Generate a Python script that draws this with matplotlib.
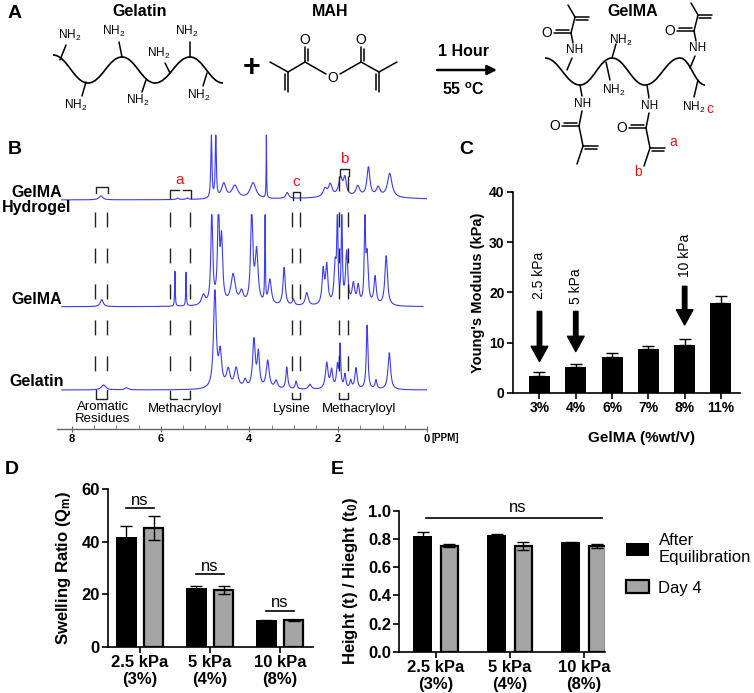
import numpy as np
import matplotlib
matplotlib.use("Agg")
import matplotlib.pyplot as plt
from matplotlib.path import Path
from matplotlib.patches import PathPatch

plt.rcParams['font.family'] = ['Liberation Sans', 'DejaVu Sans']
plt.rcParams['mathtext.fontset'] = 'custom'
plt.rcParams['mathtext.rm'] = 'Liberation Sans'
plt.rcParams['mathtext.bf'] = 'Liberation Sans:bold'
plt.rcParams['mathtext.it'] = 'Liberation Sans:italic'

W, H = 754, 693

# --- B: 1H NMR peak lists (ppm, height, half width) ---
hydrogel_ppm = [7.35, 5.62, 5.40, 4.86, 4.76, 4.58, 4.33, 3.92, 3.62, 3.15,
                2.30, 2.18, 1.95, 1.85, 1.56, 1.32, 1.10, 0.84, 1.60]
hydrogel_int = [4, 1.5, 1.5, 65, 65, 15, 13, 16, 65, 6,
                8, 12, 18, 17, 10, 29, 9, 24, 3]
hydrogel_wid = [0.05, 0.03, 0.03, 0.014, 0.014, 0.06, 0.08, 0.08, 0.006, 0.04,
                0.05, 0.05, 0.05, 0.04, 0.05, 0.04, 0.05, 0.06, 1.2]

gelma_ppm = [7.33, 5.68, 5.43, 5.04, 4.85, 4.70, 4.63, 4.37, 4.18, 3.95,
             3.84, 3.65, 3.54, 3.22, 3.01, 2.71, 2.34, 2.26, 2.07, 2.02,
             1.92, 1.81, 1.66, 1.55, 1.40, 1.35, 1.17, 0.92]
gelma_int = [7, 35, 34, 10, 92, 92, 62, 30, 12, 92,
             52, 92, 25, 38, 6, 13, 34, 38, 38, 92,
             92, 52, 20, 18, 92, 48, 28, 50]
gelma_wid = [0.04, 0.008, 0.008, 0.05, 0.025, 0.025, 0.03, 0.06, 0.05, 0.03,
             0.04, 0.008, 0.04, 0.03, 0.03, 0.04, 0.03, 0.03, 0.03, 0.015,
             0.015, 0.03, 0.035, 0.03, 0.015, 0.03, 0.03, 0.035]

gelatin_ppm = [7.29, 6.77, 4.78, 4.66, 4.48, 4.30, 4.10, 3.90, 3.80, 3.59,
               3.40, 3.16, 2.95, 2.64, 2.26, 2.15, 2.02, 1.96, 1.85, 1.72,
               1.60, 1.35, 1.15, 0.85]
gelatin_int = [5, 2, 100, 34, 18, 20, 8, 48, 34, 28,
               8, 22, 8, 5, 26, 18, 22, 42, 14, 8,
               21, 64, 9, 37]
gelatin_wid = [0.06, 0.05, 0.035, 0.04, 0.05, 0.05, 0.04, 0.035, 0.03, 0.04,
               0.04, 0.025, 0.025, 0.04, 0.035, 0.03, 0.025, 0.018, 0.025, 0.025,
               0.03, 0.022, 0.025, 0.035]

guide_ppm = [7.48, 7.20, 5.79, 5.33, 3.05, 2.86, 1.98, 1.79]
region_labels = ['Aromatic\nResidues', 'Methacryloyl', 'Lysine', 'Methacryloyl']
region_ppm = [7.30, 5.45, 3.05, 1.52]
trace_names = ['GelMA\nHydrogel', 'GelMA', 'Gelatin']

# --- C: Young's modulus ---
conc_labels = ['3%', '4%', '6%', '7%', '8%', '11%']
modulus = [3.4, 5.1, 7.2, 8.7, 9.5, 17.9]
modulus_err = [0.8, 0.6, 0.7, 0.7, 1.2, 1.3]
arrow_labels = ['2.5 kPa', '5 kPa', '10 kPa']
arrow_bar = [0, 1, 4]

# --- D / E ---
group_labels = ['2.5 kPa\n(3%)', '5 kPa\n(4%)', '10 kPa\n(8%)']
swell_eq = [41.8, 22.5, 10.2]
swell_eq_err = [4.2, 0.6, 0.2]
swell_d4 = [45.2, 21.7, 10.1]
swell_d4_err = [4.7, 1.4, 0.2]
swell_ns = [52.8, 27.7, 13.8]

height_eq = [0.82, 0.83, 0.775]
height_eq_err = [0.027, 0.006, 0.003]
height_d4 = [0.752, 0.752, 0.752]
height_d4_err = [0.012, 0.028, 0.013]
height_ns = 0.95

GREY = '#a5a5a5'
BLUE = '#3c3cf0'
RED = '#e8141b'


def rect(l, t, r, b):
    return [l / W, 1 - b / H, (r - l) / W, (b - t) / H]


def spectrum(x, centres, heights, widths):
    y = np.zeros_like(x)
    for c, h, w in zip(centres, heights, widths):
        y += h * w ** 2 / ((x - c) ** 2 + w ** 2)
    return y


fig = plt.figure(figsize=(W / 100, H / 100), dpi=100)

# ---------------- overlay for panel A and letters (pixel coords) ----------------
ax0 = fig.add_axes([0, 0, 1, 1])
ax0.set_xlim(0, W)
ax0.set_ylim(H, 0)
ax0.axis('off')


def bond(p, q, lw=1.1):
    ax0.plot([p[0], q[0]], [p[1], q[1]], color='k', lw=lw, solid_capstyle='round')


def dbond(p, q, off=2.6):
    p, q = np.array(p, float), np.array(q, float)
    d = q - p
    n = np.array([-d[1], d[0]]) / np.hypot(*d) * off
    bond(p, q)
    bond(p + n + d * 0.1, q + n - d * 0.1)


def chain(nodes):
    verts, codes = [nodes[0]], [Path.MOVETO]
    for (x0, y0), (x1, y1) in zip(nodes[:-1], nodes[1:]):
        dx = x1 - x0
        verts += [(x0 + 0.4 * dx, y0), (x1 - 0.4 * dx, y1), (x1, y1)]
        codes += [Path.CURVE4] * 3
    ax0.add_patch(PathPatch(Path(verts, codes), fill=False, lw=1.2, ec='k'))


def atom(x, y, s, size=8.5, color='k'):
    ax0.text(x, y, s, fontsize=size, ha='center', va='center', color=color)


bold = dict(fontweight='bold', ha='center', va='center')
ax0.text(8, 14, 'A', fontsize=14, fontweight='bold', ha='left', va='center')
ax0.text(8, 150, 'B', fontsize=14, fontweight='bold', ha='left', va='center')
ax0.text(459, 150, 'C', fontsize=14, fontweight='bold', ha='left', va='center')
ax0.text(5, 470, 'D', fontsize=14, fontweight='bold', ha='left', va='center')
ax0.text(331, 470, 'E', fontsize=14, fontweight='bold', ha='left', va='center')

# gelatin
ax0.text(140, 11, 'Gelatin', fontsize=11.5, **bold)
chain([(53, 55), (88, 83), (122, 57), (155, 83), (190, 57), (223, 83)])
for p, q, lab in [((60, 60), (66, 45), (70, 35)), ((122, 57), (119, 42), (114, 31)),
                  ((170, 73), (165, 63), (159, 53)), ((190, 57), (190, 42), (187, 31)),
                  ((86, 82), (82, 96), (76, 105)), ((146, 80), (142, 92), (138, 100)),
                  ((207, 73), (203, 86), (199, 95))]:
    bond(p, q)
    atom(lab[0], lab[1], 'NH$_2$')

ax0.text(252, 68, '+', fontsize=22, **bold)
ax0.text(330, 12, 'MAH', fontsize=11.5, **bold)
bond((270, 62), (288, 72))
dbond((288, 72), (288, 92))
bond((288, 72), (305, 62))
dbond((305, 62), (305, 47))
atom(305, 40, 'O', 10)
bond((305, 62), (326, 74))
atom(333, 78, 'O', 10)
bond((340, 74), (361, 62))
dbond((361, 62), (361, 47))
atom(361, 40, 'O', 10)
bond((361, 62), (379, 72))
dbond((379, 72), (379, 92))
bond((379, 72), (397, 62))

ax0.text(463, 52, '1 Hour', fontsize=11.5, **bold)
ax0.annotate('', xy=(497, 70), xytext=(437, 70),
             arrowprops=dict(arrowstyle='-|>', lw=1.8, color='k', mutation_scale=14,
                             shrinkA=0, shrinkB=0))
ax0.text(463, 90, '55 $^{\\mathbf{o}}$C', fontsize=11.5, **bold)

# GelMA
ax0.text(633, 11, 'GelMA', fontsize=11.5, **bold)
chain([(545, 58), (580, 85), (612, 58), (645, 85), (680, 58), (705, 85)])
for p, q, lab in [((612, 58), (616, 44), (621, 40)), ((606, 62), (610, 80), (614, 90)),
                  ((698, 80), (694, 97), (694, 107))]:
    bond(p, q)
    atom(lab[0], lab[1], 'NH$_2$')
atom(710, 109, 'c', 10, RED)
# top amides
for nx, ny, cx in [(575, 50, 571), (698, 48, 694)]:
    bond((nx - 8, ny + 20), (nx - 3, ny + 8))
    atom(nx, ny, 'NH', 8.5)
    bond((nx - 2, ny - 7), (cx, ny - 17))
    dbond((cx, ny - 17), (cx - 17, ny - 17))
    atom(cx - 24, ny - 17, 'O', 10)
    bond((cx, ny - 17), (cx + 4, ny - 33))
    dbond((cx + 4, ny - 33), (cx + 18, ny - 33))
    bond((cx + 4, ny - 33), (cx - 3, ny - 45))
# bottom amides
for nx, ny in [(583, 104), (650, 106)]:
    bond((nx - 3, 85), (nx - 1, ny - 8))
    atom(nx, ny, 'NH', 8.5)
    bond((nx - 1, ny + 7), (nx - 4, ny + 22))
    dbond((nx - 4, ny + 22), (nx - 21, ny + 22))
    atom(nx - 28, ny + 22, 'O', 10)
    bond((nx - 4, ny + 22), (nx, ny + 42))
    dbond((nx, ny + 42), (nx + 15, ny + 42))
    bond((nx, ny + 42), (nx - 6, ny + 60))
atom(673, 142, 'a', 10, RED)
atom(638, 172, 'b', 10, RED)

# ---------------- B: NMR spectra ----------------
axb = fig.add_axes(rect(57, 100, 427, 429))
axb.set_xlim(8.338, 0)
axb.set_ylim(0, 329)
axb.patch.set_alpha(0)
for s in ['top', 'right', 'left']:
    axb.spines[s].set_visible(False)
axb.spines['bottom'].set_color('#666666')
axb.spines['bottom'].set_linewidth(1.0)
axb.set_yticks([])
axb.set_xticks([8, 6, 4, 2, 0])
axb.set_xticks(np.arange(0, 8.3, 0.5), minor=True)
axb.tick_params(axis='x', which='major', direction='inout', length=5, color='#666666',
                labelsize=8, pad=1)
axb.tick_params(axis='x', which='minor', direction='in', length=3, color='#666666')
for t in axb.get_xticklabels():
    t.set_fontweight('bold')
axb.text(-0.1, -9, '[PPM]', fontsize=7, fontweight='bold', ha='left', va='center')

traces = [(hydrogel_ppm, hydrogel_int, hydrogel_wid, 229, 0.0, 65),
          (gelma_ppm, gelma_int, gelma_wid, 122.3, 0.09, 92),
          (gelatin_ppm, gelatin_int, gelatin_wid, 39, 0.0, 100)]
for ppm, inten, wid, base, end, cap in traces:
    x = np.linspace(8.23, end, 4000)
    y = np.minimum(spectrum(x, ppm, inten, wid), cap)
    axb.plot(x, base + y, color=BLUE, lw=0.8)

for i, p in enumerate(guide_ppm):
    top = 253 if i >= 6 else 217
    axb.plot([p, p], [top, 58], color='#222222', lw=1.0, ls=(0, (10.8, 15.1)))


def bracket(x0, x1, ytop, ybot, legs='both'):
    xs, ys = [x0, x1], [ytop, ytop]
    if legs in ('both', 'left'):
        xs, ys = [x0] + xs, [ybot] + ys
    if legs in ('both', 'right'):
        xs, ys = xs + [x1], ys + [ybot]
    axb.plot(xs, ys, color='#222222', lw=1.0)


# hydrogel brackets (open downward)
bracket(7.47, 7.18, 429 - 186.6, 429 - 193.4)
bracket(5.79, 5.58, 429 - 190, 429 - 197.6, 'left')
bracket(5.50, 5.31, 429 - 190, 429 - 197.6, 'right')
bracket(3.03, 2.86, 429 - 191.7, 429 - 199.7)
bracket(1.97, 1.76, 429 - 169.3, 429 - 176.2)
for lab, p, py in [('a', 5.58, 180), ('c', 2.95, 182.4), ('b', 1.87, 159)]:
    axb.text(p, 429 - py, lab, color=RED, fontsize=11, ha='center', va='center')
# gelatin brackets (open upward)
bracket(7.47, 7.20, 429 - 399, 429 - 390)
bracket(5.79, 5.64, 429 - 399, 429 - 390.7, 'left')
bracket(5.50, 5.33, 429 - 399, 429 - 390.7, 'right')
bracket(3.05, 2.86, 429 - 399.3, 429 - 392.7)
bracket(1.98, 1.77, 429 - 399.3, 429 - 392.7)
for lab, p in zip(region_labels, region_ppm):
    yy = 429 - 413 if '\n' in lab else 429 - 409
    axb.text(p, yy, lab, fontsize=9.5, ha='center', va='center', linespacing=1.05)

label_x = 8.338 + (57 - 37) / 44.375
for name, py in zip(trace_names, [200, 300, 382]):
    axb.text(label_x, 429 - py, name, fontsize=11.5, fontweight='bold', ha='center',
             va='center', linespacing=1.05)


def style(ax, size):
    for s in ['top', 'right']:
        ax.spines[s].set_visible(False)
    for s in ['left', 'bottom']:
        ax.spines[s].set_linewidth(1.2)
    ax.tick_params(direction='out', length=4, width=1.2, labelsize=size, pad=2)
    for t in ax.get_xticklabels() + ax.get_yticklabels():
        t.set_fontweight('bold')


# ---------------- C: Young's modulus ----------------
axc = fig.add_axes(rect(513, 192, 740, 392.7))
xc = np.arange(len(modulus))
axc.bar(xc, modulus, width=0.58, color='k', zorder=2)
axc.errorbar(xc, modulus, yerr=[np.zeros(len(modulus)), modulus_err], fmt='none',
             ecolor='k', elinewidth=1, capsize=4, capthick=1, zorder=3)
axc.set_xlim(-0.73, 5.525)
axc.set_ylim(0, 40)
axc.set_yticks([0, 10, 20, 30, 40])
axc.set_xticks(xc)
axc.set_xticklabels(conc_labels)
style(axc, 10)
axc.set_ylabel("Young's Modulus (kPa)", fontsize=10.5, fontweight='bold', labelpad=3)
axc.set_xlabel('GelMA (%wt/V)', fontsize=11, fontweight='bold', labelpad=8)
axc.xaxis.set_label_coords((641 - 513) / 227, -0.19)
for lab, b, tip, tail, ty in zip(arrow_labels, arrow_bar, [6.2, 8.2, 13.5],
                                 [16.2, 16.2, 21.2], [23.4, 21.2, 27.4]):
    axc.annotate('', xy=(b, tip), xytext=(b, tail),
                 arrowprops=dict(arrowstyle='simple,head_length=1.1,head_width=1.2,tail_width=0.32',
                                 mutation_scale=10, color='k', shrinkA=0, shrinkB=0))
    axc.text(b, ty, lab, rotation=90, fontsize=10, ha='center', va='center')

# ---------------- D: swelling ratio ----------------
axd = fig.add_axes(rect(108, 489, 313, 647))
xd = np.arange(3)
off, bw = 0.195, 0.29
axd.bar(xd - off, swell_eq, width=bw, color='k', zorder=2)
axd.bar(xd + off, swell_d4, width=bw * 0.92, color=GREY, edgecolor='k', linewidth=1.6, zorder=2)
axd.errorbar(xd - off, swell_eq, yerr=swell_eq_err, fmt='none', ecolor='k',
             elinewidth=1, capsize=4, capthick=1, zorder=3)
axd.errorbar(xd + off, swell_d4, yerr=swell_d4_err, fmt='none', ecolor='k',
             elinewidth=1, capsize=4, capthick=1, zorder=3)
for g, h in zip(xd, swell_ns):
    axd.plot([g - off, g + off], [h, h], color='k', lw=1.2)
    axd.text(g, h + 1.3, 'ns', fontsize=12, ha='center', va='baseline')
axd.set_xlim(-0.457, 2.47)
axd.set_ylim(0, 60)
axd.set_yticks([0, 20, 40, 60])
axd.set_xticks(xd)
axd.set_xticklabels(group_labels, linespacing=1.15)
style(axd, 12)
axd.set_ylabel('Swelling Ratio (Q$_\\mathbf{m}$)', fontsize=12, fontweight='bold', labelpad=6)

# ---------------- E: height ratio ----------------
axe = fig.add_axes(rect(399.3, 510.7, 605, 651.7))
xe = np.arange(3)
off, bw = 0.18, 0.25
b1 = axe.bar(xe - off, height_eq, width=bw, color='k', zorder=2)
b2 = axe.bar(xe + off, height_d4, width=bw * 0.92, color=GREY, edgecolor='k', linewidth=1.6, zorder=2)
axe.errorbar(xe - off, height_eq, yerr=height_eq_err, fmt='none', ecolor='k',
             elinewidth=1, capsize=4, capthick=1, zorder=3)
axe.errorbar(xe + off, height_d4, yerr=height_d4_err, fmt='none', ecolor='k',
             elinewidth=1, capsize=4, capthick=1, zorder=3)
axe.plot([-0.14, 2.25], [height_ns, height_ns], color='k', lw=1.2, clip_on=False)
axe.text(1.11, height_ns + 0.04, 'ns', fontsize=12, ha='center', va='baseline')
axe.set_xlim(-0.496, 2.284)
axe.set_ylim(0, 1.0)
axe.set_yticks([0, 0.2, 0.4, 0.6, 0.8, 1.0])
axe.set_yticklabels(['0.0', '0.2', '0.4', '0.6', '0.8', '1.0'])
axe.set_xticks(xe)
axe.set_xticklabels(group_labels, linespacing=1.15)
style(axe, 12)
axe.set_ylabel('Height (t) / Hieght (t$_\\mathbf{0}$)', fontsize=12, fontweight='bold', labelpad=6)
axe.legend([b1, b2], ['After\nEquilibration', 'Day 4'], loc='upper left',
           bbox_to_anchor=(626 / W, 1 - 533 / H), bbox_transform=fig.transFigure,
           frameon=False, fontsize=12, handlelength=1.35, handleheight=0.8,
           handletextpad=0.6, labelspacing=0.9, borderpad=0, borderaxespad=0)

fig.savefig('out.png', dpi=100)
